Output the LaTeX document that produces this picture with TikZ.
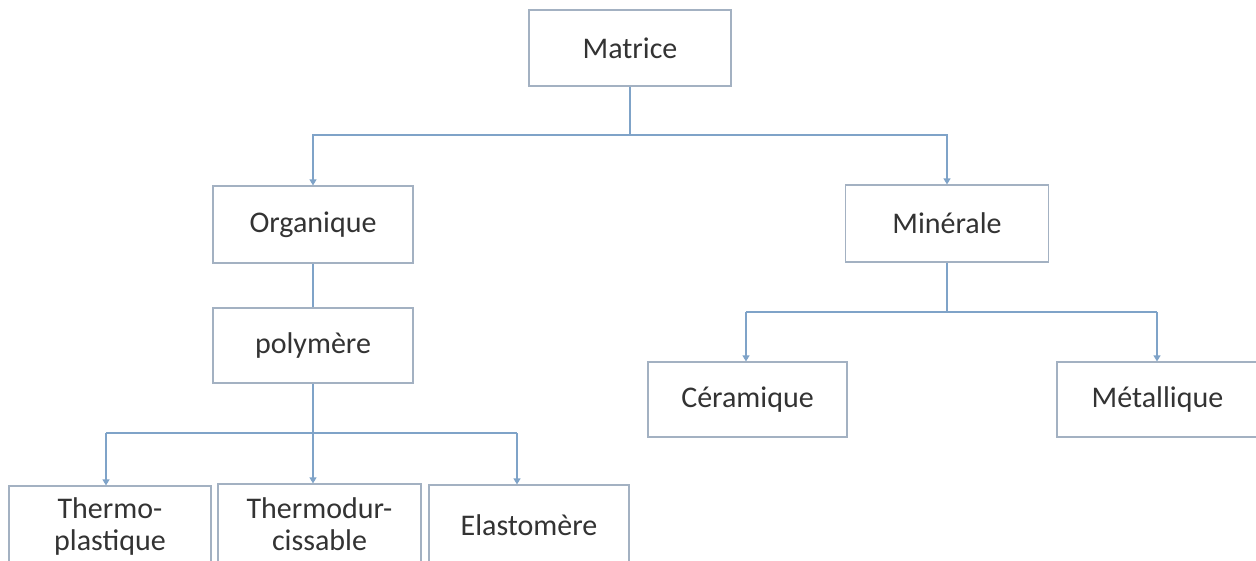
\documentclass[tikz,border=0pt]{standalone}
\usepackage{fontspec}
\setmainfont{Carlito}
\usetikzlibrary{arrows.meta,calc}
\definecolor{boxline}{HTML}{A3B1C2}
\definecolor{conline}{HTML}{7FA3C8}
\definecolor{txt}{HTML}{333333}
\tikzset{
  box/.style={draw=boxline, line width=1.2pt, fill=white, text=txt, inner sep=0pt,
    font=\fontsize{30}{32}\selectfont, align=center},
  conn/.style={draw=conline, line width=1.2pt},
  arr/.style={conn, -{Triangle[width=7pt,length=6pt]}}
}
\begin{document}
\begin{tikzpicture}[x=1pt,y=-1pt]
\clip (0,0) rectangle (1256,560);
\fill[white] (0,0) rectangle (1256,560);
% nodes
\node[box, minimum width=202pt, minimum height=76pt] (mat) at (630,48) {Matrice};
\node[box, minimum width=200pt, minimum height=77pt] (org) at (313,224.5) {Organique};
\node[box, minimum width=200pt, minimum height=75pt] (pol) at (313,345.5) {polymère};
\node[box, minimum width=203pt, minimum height=77pt] (min) at (947,223.5) {Minérale};
\node[box, minimum width=199pt, minimum height=75pt] (cer) at (747.5,399.5) {Céramique};
\node[box, minimum width=201pt, minimum height=75pt] (met) at (1157.5,399.5) {Métallique};
\node[box, minimum width=202pt, minimum height=80pt] (tp) at (110,526) {Thermo-\\plastique};
\node[box, minimum width=203pt, minimum height=80pt] (td) at (319.5,524) {Thermodur-\\cissable};
\node[box, minimum width=200pt, minimum height=80pt] (ela) at (529,525) {Elastomère};
% junction coordinates
\coordinate (j1) at (630,135);
\coordinate (j2) at (313,433);
\coordinate (j3) at (947,312);
\coordinate (a1) at (106,433);
\coordinate (a2) at (313,433);
\coordinate (a3) at (517,433);
\coordinate (c1) at (746,312);
\coordinate (c2) at (1157,312);
% connectors
\draw[conn] (mat.south) -- (j1);
\draw[arr] (j1) -| (org.north);
\draw[arr] (j1) -| (min.north);
\draw[conn] (org.south) -- (pol.north);
\draw[conn] (pol.south) -- (j2);
\draw[conn] (a1) -- (a3);
\draw[arr] (a1) -- (a1 |- tp.north);
\draw[arr] (a2) -- (a2 |- td.north);
\draw[arr] (a3) -- (a3 |- ela.north);
\draw[conn] (min.south) -- (j3);
\draw[conn] (c1) -- (c2);
\draw[arr] (c1) -- (c1 |- cer.north);
\draw[arr] (c2) -- (c2 |- met.north);
\end{tikzpicture}
\end{document}
